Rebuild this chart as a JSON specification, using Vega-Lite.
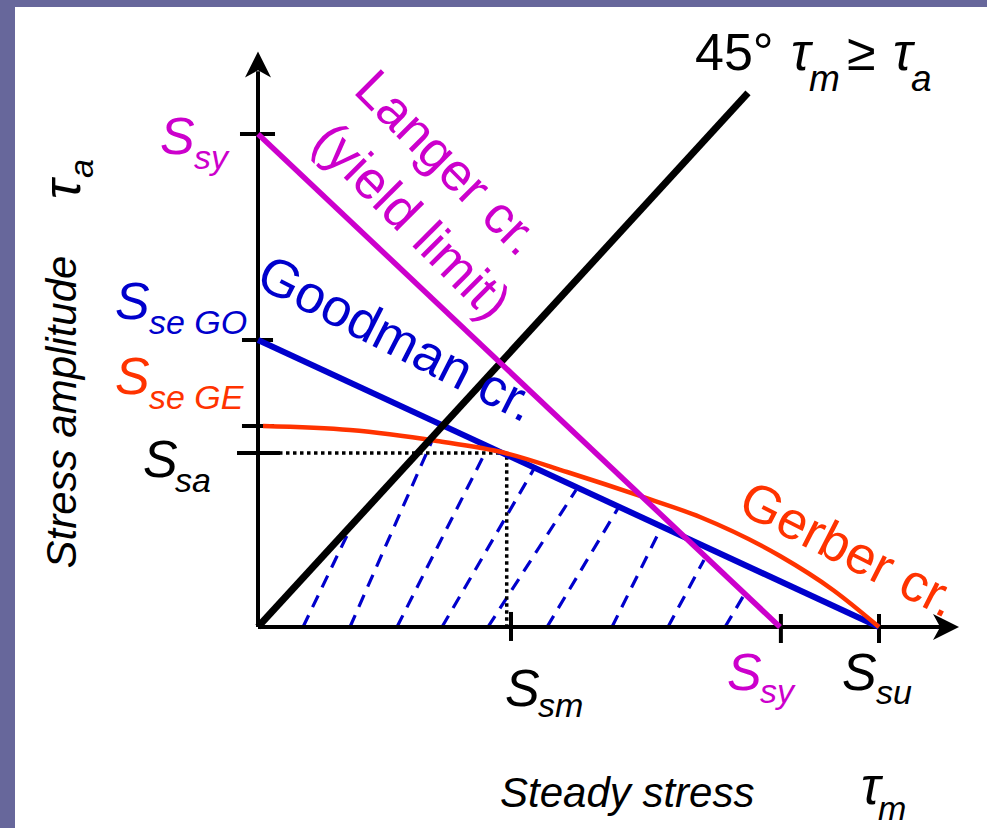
{
  "$schema": "https://vega.github.io/schema/vega-lite/v6.json",
  "width": 972,
  "height": 821,
  "autosize": {"type": "none"},
  "padding": {"left": 15, "top": 7, "right": 0, "bottom": 0},
  "background": "#67679b",
  "config": {"view": {"fill": "#ffffff", "stroke": null}, "font": "Liberation Sans"},
  "datasets": {
    "criteria": [
      {"curve": "Langer", "k": 0, "u": 0, "v": 79.39},
      {"curve": "Langer", "k": 1, "u": 84.06, "v": 0},
      {"curve": "Goodman", "k": 0, "u": 0, "v": 46.22},
      {"curve": "Goodman", "k": 1, "u": 100, "v": 0},
      {"curve": "Gerber", "k": 0, "u": 0.81, "v": 32.37},
      {"curve": "Gerber", "k": 1, "u": 14.81, "v": 31.72},
      {"curve": "Gerber", "k": 2, "u": 28.82, "v": 29.95},
      {"curve": "Gerber", "k": 3, "u": 39.77, "v": 28.02},
      {"curve": "Gerber", "k": 4, "u": 49.76, "v": 24.96},
      {"curve": "Gerber", "k": 5, "u": 61.51, "v": 21.1},
      {"curve": "Gerber", "k": 6, "u": 71.18, "v": 17.71},
      {"curve": "Gerber", "k": 7, "u": 84.06, "v": 11.43},
      {"curve": "Gerber", "k": 8, "u": 92.59, "v": 5.96},
      {"curve": "Gerber", "k": 9, "u": 100, "v": 0},
      {"curve": "Load45", "k": 0, "u": 0, "v": 0},
      {"curve": "Load45", "k": 1, "u": 78.9, "v": 86.0}
    ],
    "hatch": [
      {"line": 1, "k": 0, "u": 7.25, "v": 0}, {"line": 1, "k": 1, "u": 15.14, "v": 16.43},
      {"line": 2, "k": 0, "u": 14.81, "v": 0}, {"line": 2, "k": 1, "u": 28.5, "v": 31.08},
      {"line": 3, "k": 0, "u": 22.38, "v": 0}, {"line": 3, "k": 1, "u": 36.88, "v": 28.66},
      {"line": 4, "k": 0, "u": 29.63, "v": 0}, {"line": 4, "k": 1, "u": 44.61, "v": 25.76},
      {"line": 5, "k": 0, "u": 37.04, "v": 0}, {"line": 5, "k": 1, "u": 51.21, "v": 22.06},
      {"line": 6, "k": 0, "u": 46.54, "v": 0}, {"line": 6, "k": 1, "u": 58.29, "v": 19.65},
      {"line": 7, "k": 0, "u": 57.0, "v": 0}, {"line": 7, "k": 1, "u": 65.06, "v": 16.26},
      {"line": 8, "k": 0, "u": 66.02, "v": 0}, {"line": 8, "k": 1, "u": 71.82, "v": 10.79},
      {"line": 9, "k": 0, "u": 75.2, "v": 0}, {"line": 9, "k": 1, "u": 78.74, "v": 5.96}
    ],
    "guides": [
      {"k": 0, "u": 0, "v": 28.02},
      {"k": 1, "u": 40.05, "v": 28.02},
      {"k": 2, "u": 40.05, "v": 0}
    ],
    "frame": [
      {"part": "yaxis", "k": 0, "u": 0, "v": 0}, {"part": "yaxis", "k": 1, "u": 0, "v": 89.5},
      {"part": "xaxis", "k": 0, "u": 0, "v": 0}, {"part": "xaxis", "k": 1, "u": 110.5, "v": 0},
      {"part": "tSsy", "k": 0, "u": -2.9, "v": 79.39}, {"part": "tSsy", "k": 1, "u": 2.74, "v": 79.39},
      {"part": "tGO", "k": 0, "u": -2.58, "v": 46.22}, {"part": "tGO", "k": 1, "u": 2.42, "v": 46.22},
      {"part": "tGE", "k": 0, "u": -2.58, "v": 32.37}, {"part": "tGE", "k": 1, "u": 2.58, "v": 32.37},
      {"part": "tSa", "k": 0, "u": -3.38, "v": 28.02}, {"part": "tSa", "k": 1, "u": 3.54, "v": 28.02},
      {"part": "tSm", "k": 0, "u": 40.74, "v": 2.42}, {"part": "tSm", "k": 1, "u": 40.74, "v": -2.25},
      {"part": "tSyx", "k": 0, "u": 84.2, "v": 2.09}, {"part": "tSyx", "k": 1, "u": 84.2, "v": -2.58},
      {"part": "tSu", "k": 0, "u": 100, "v": 2.09}, {"part": "tSu", "k": 1, "u": 100, "v": -2.58}
    ],
    "arrows": [
      {"axis": "y", "u": 0, "v": 90.58},
      {"axis": "x", "u": 110.79, "v": 0}
    ],
    "labels": [
      {"t": "S", "u": -15.78, "v": 76.17, "c": "Langer", "r": "main"},
      {"t": "S", "u": -23.03, "v": 49.6, "c": "Goodman", "r": "main"},
      {"t": "S", "u": -23.03, "v": 37.52, "c": "Gerber", "r": "main"},
      {"t": "S", "u": -18.52, "v": 24.15, "c": "none", "r": "main"},
      {"t": "S", "u": 39.77, "v": -12.72, "c": "none", "r": "main"},
      {"t": "S", "u": 75.52, "v": -10.14, "c": "Langer", "r": "main"},
      {"t": "S", "u": 94.04, "v": -10.14, "c": "none", "r": "main"},
      {"t": "τ", "u": 85.83, "v": 89.69, "c": "none", "r": "main"},
      {"t": "τ", "u": 102.25, "v": 89.69, "c": "none", "r": "main"},
      {"t": "τ", "u": 97.1, "v": -28.5, "c": "none", "r": "main"},
      {"t": "sy", "u": -10.3, "v": 73.75, "c": "Langer", "r": "sub"},
      {"t": "se GO", "u": -17.55, "v": 47.18, "c": "Goodman", "r": "sub"},
      {"t": "se GE", "u": -17.55, "v": 35.1, "c": "Gerber", "r": "sub"},
      {"t": "sa", "u": -13.36, "v": 21.74, "c": "none", "r": "sub"},
      {"t": "sm", "u": 45.09, "v": -14.49, "c": "none", "r": "sub"},
      {"t": "sy", "u": 80.84, "v": -12.24, "c": "Langer", "r": "sub"},
      {"t": "su", "u": 99.52, "v": -12.4, "c": "none", "r": "sub"},
      {"t": "m", "u": 88.73, "v": 86.3, "c": "none", "r": "bigsub"},
      {"t": "a", "u": 105.15, "v": 86.3, "c": "none", "r": "bigsub"},
      {"t": "m", "u": 99.84, "v": -31.08, "c": "none", "r": "sub"},
      {"t": "45°", "u": 70.37, "v": 89.69, "c": "none", "r": "upright"},
      {"t": "≥", "u": 94.85, "v": 89.69, "c": "none", "r": "upright"},
      {"t": "Steady stress", "u": 38.97, "v": -28.99, "c": "none", "r": "title"}
    ],
    "vlabels": [
      {"t": "τ", "u": -28.66, "v": 68.92, "r": "main"},
      {"t": "a", "u": -26.57, "v": 72.3, "r": "sub"},
      {"t": "Stress amplitude", "u": -29.31, "v": 34.62, "r": "title"}
    ],
    "curvenames": [
      {"t": "Langer cr.", "u": 15.14, "v": 86.15, "c": "Langer"},
      {"t": "(yield limit)", "u": 8.37, "v": 77.78, "c": "Langer"},
      {"t": "Goodman cr.", "u": -0.68, "v": 55.0, "c": "Goodman"},
      {"t": "Gerber cr.", "u": 76.92, "v": 18.58, "c": "Gerber"}
    ]
  },
  "encoding": {
    "x": {"field": "u", "type": "quantitative", "scale": {"domain": [-39.13, 117.39], "nice": false, "zero": false}, "axis": null},
    "y": {"field": "v", "type": "quantitative", "scale": {"domain": [-32.37, 99.84], "nice": false, "zero": false}, "axis": null}
  },
  "layer": [
    {
      "data": {"name": "hatch"},
      "mark": {"type": "line", "color": "#0000cc", "strokeWidth": 3.2, "strokeDash": [13, 9], "strokeCap": "butt"},
      "encoding": {"detail": {"field": "line"}, "order": {"field": "k"}}
    },
    {
      "data": {"name": "guides"},
      "mark": {"type": "line", "color": "#000000", "strokeWidth": 3.5, "strokeDash": [3.5, 3.5], "strokeCap": "butt"},
      "encoding": {"order": {"field": "k"}}
    },
    {
      "data": {"name": "frame"},
      "mark": {"type": "line", "color": "#000000", "strokeWidth": 4, "strokeCap": "butt"},
      "encoding": {"detail": {"field": "part"}, "order": {"field": "k"}}
    },
    {
      "data": {"name": "criteria"},
      "transform": [{"filter": "datum.curve === 'Goodman'"}],
      "mark": {"type": "line", "color": "#0000cc", "strokeWidth": 6, "strokeCap": "butt"},
      "encoding": {"order": {"field": "k"}}
    },
    {
      "data": {"name": "criteria"},
      "transform": [{"filter": "datum.curve === 'Gerber'"}],
      "mark": {"type": "line", "color": "#ff3300", "strokeWidth": 4.5, "interpolate": "monotone", "strokeCap": "butt"},
      "encoding": {"order": {"field": "k"}}
    },
    {
      "data": {"name": "criteria"},
      "transform": [{"filter": "datum.curve === 'Load45'"}],
      "mark": {"type": "line", "color": "#000000", "strokeWidth": 7, "strokeCap": "butt"},
      "encoding": {"order": {"field": "k"}}
    },
    {
      "data": {"name": "criteria"},
      "transform": [{"filter": "datum.curve === 'Langer'"}],
      "mark": {"type": "line", "color": "#cc00cc", "strokeWidth": 5.5, "strokeCap": "butt"},
      "encoding": {"order": {"field": "k"}}
    },
    {
      "data": {"name": "arrows"},
      "transform": [{"filter": "datum.axis === 'y'"}],
      "mark": {"type": "point", "shape": "M0,-1L1,1L0,0.45L-1,1Z", "size": 676, "filled": true, "color": "#000000", "opacity": 1, "strokeWidth": 0}
    },
    {
      "data": {"name": "arrows"},
      "transform": [{"filter": "datum.axis === 'x'"}],
      "mark": {"type": "point", "shape": "M1,0L-1,1L-0.45,0L-1,-1Z", "size": 676, "filled": true, "color": "#000000", "opacity": 1, "strokeWidth": 0}
    },
    {
      "data": {"name": "labels"},
      "transform": [{"filter": "datum.r === 'main'"}],
      "mark": {"type": "text", "fontSize": 52, "fontStyle": "italic", "align": "left", "baseline": "alphabetic"},
      "encoding": {
        "text": {"field": "t"},
        "color": {"field": "c", "type": "nominal", "scale": {"domain": ["Langer", "Goodman", "Gerber", "none"], "range": ["#cc00cc", "#0000cc", "#ff3300", "#000000"]}, "legend": null}
      }
    },
    {
      "data": {"name": "labels"},
      "transform": [{"filter": "datum.r === 'sub'"}],
      "mark": {"type": "text", "fontSize": 34, "fontStyle": "italic", "align": "left", "baseline": "alphabetic"},
      "encoding": {
        "text": {"field": "t"},
        "color": {"field": "c", "type": "nominal", "scale": {"domain": ["Langer", "Goodman", "Gerber", "none"], "range": ["#cc00cc", "#0000cc", "#ff3300", "#000000"]}, "legend": null}
      }
    },
    {
      "data": {"name": "labels"},
      "transform": [{"filter": "datum.r === 'bigsub'"}],
      "mark": {"type": "text", "fontSize": 37, "fontStyle": "italic", "align": "left", "baseline": "alphabetic", "color": "#000000"},
      "encoding": {"text": {"field": "t"}}
    },
    {
      "data": {"name": "labels"},
      "transform": [{"filter": "datum.r === 'upright'"}],
      "mark": {"type": "text", "fontSize": 52, "align": "left", "baseline": "alphabetic", "color": "#000000"},
      "encoding": {"text": {"field": "t"}}
    },
    {
      "data": {"name": "labels"},
      "transform": [{"filter": "datum.r === 'title'"}],
      "mark": {"type": "text", "fontSize": 42, "fontStyle": "italic", "align": "left", "baseline": "alphabetic", "color": "#000000"},
      "encoding": {"text": {"field": "t"}}
    },
    {
      "data": {"name": "vlabels"},
      "transform": [{"filter": "datum.r === 'main'"}],
      "mark": {"type": "text", "fontSize": 52, "fontStyle": "italic", "angle": 270, "align": "left", "baseline": "alphabetic", "color": "#000000"},
      "encoding": {"text": {"field": "t"}}
    },
    {
      "data": {"name": "vlabels"},
      "transform": [{"filter": "datum.r === 'sub'"}],
      "mark": {"type": "text", "fontSize": 34, "fontStyle": "italic", "angle": 270, "align": "left", "baseline": "alphabetic", "color": "#000000"},
      "encoding": {"text": {"field": "t"}}
    },
    {
      "data": {"name": "vlabels"},
      "transform": [{"filter": "datum.r === 'title'"}],
      "mark": {"type": "text", "fontSize": 42, "fontStyle": "italic", "angle": 270, "align": "center", "baseline": "alphabetic", "color": "#000000"},
      "encoding": {"text": {"field": "t"}}
    },
    {
      "data": {"name": "curvenames"},
      "transform": [{"filter": "datum.c === 'Langer'"}],
      "mark": {"type": "text", "fontSize": 53, "angle": 45, "align": "left", "baseline": "alphabetic", "color": "#cc00cc"},
      "encoding": {"text": {"field": "t"}}
    },
    {
      "data": {"name": "curvenames"},
      "transform": [{"filter": "datum.c === 'Goodman'"}],
      "mark": {"type": "text", "fontSize": 53, "angle": 27, "align": "left", "baseline": "alphabetic", "color": "#0000cc"},
      "encoding": {"text": {"field": "t"}}
    },
    {
      "data": {"name": "curvenames"},
      "transform": [{"filter": "datum.c === 'Gerber'"}],
      "mark": {"type": "text", "fontSize": 53, "angle": 27, "align": "left", "baseline": "alphabetic", "color": "#ff3300"},
      "encoding": {"text": {"field": "t"}}
    }
  ]
}
